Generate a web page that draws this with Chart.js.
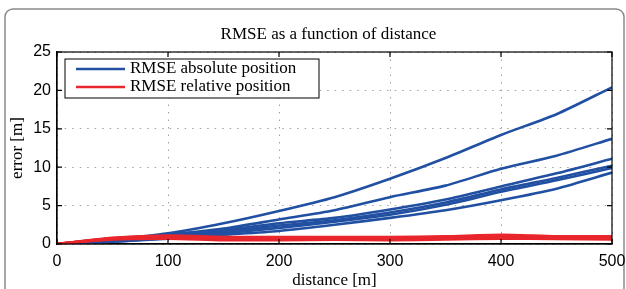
<!DOCTYPE html>
<html>
<head>
<meta charset="utf-8">
<script src="https://cdn.jsdelivr.net/npm/chart.js@4.4.1/dist/chart.umd.min.js"></script>
<style>
  html, body { margin: 0; padding: 0; background: #fff; }
  #caja { width: 626px; height: 289px; }
</style>
</head>
<body>
<div id="caja"><canvas id="grafica" width="626" height="289"></canvas></div>
<script>
// --- Datos ---
const titulo = "RMSE as a function of distance";
const distancias = [0, 50, 100, 150, 200, 250, 300, 350, 400, 450, 500];
const ticksX = [0, 100, 200, 300, 400, 500];
const ticksY = [0, 5, 10, 15, 20, 25];

// RMSE posicion absoluta (azul)
const absoluta1 = [0, 0.6, 1.4, 2.7, 4.3, 6.1, 8.5, 11.2, 14.2, 16.9, 20.4];
const absoluta2 = [0, 0.5, 1.2, 2.0, 3.2, 4.4, 6.1, 7.6, 9.8, 11.5, 13.7];
const absoluta3 = [0, 0.4, 1.0, 1.8, 2.7, 3.4, 4.5, 5.8, 7.5, 9.2, 11.1];
const absoluta4 = [0, 0.4, 0.9, 1.6, 2.4, 3.1, 4.1, 5.4, 7.1, 8.6, 10.2];
const absoluta5 = [0, 0.3, 0.8, 1.4, 2.1, 2.9, 3.8, 5.1, 6.8, 8.3, 9.9];
const absoluta6 = [0, 0.3, 0.7, 1.2, 1.7, 2.5, 3.4, 4.4, 5.7, 7.2, 9.3];

// RMSE posicion relativa (rojo)
const relativa1 = [0, 0.8, 1.1, 0.9, 0.9, 0.9, 0.9, 1.0, 1.2, 1.0, 1.0];
const relativa2 = [0, 0.75, 1.0, 0.8, 0.8, 0.85, 0.8, 0.9, 1.1, 0.95, 0.9];
const relativa3 = [0, 0.7, 0.9, 0.7, 0.7, 0.75, 0.7, 0.8, 0.9, 0.85, 0.8];
const relativa4 = [0, 0.65, 0.8, 0.6, 0.6, 0.65, 0.6, 0.7, 0.8, 0.75, 0.7];
const relativa5 = [0, 0.6, 0.7, 0.5, 0.5, 0.55, 0.5, 0.6, 0.7, 0.65, 0.6];

const etiquetaAbs = "RMSE absolute position";
const etiquetaRel = "RMSE relative position";

const AZUL = "#2150a2";
const ROJO = "#e8262c";

function puntos(valores) {
    return distancias.map((d, i) => ({ x: d, y: valores[i] }));
}

function serie(valores, color, etiqueta) {
    return {
        label: etiqueta,
        data: puntos(valores),
        borderColor: color,
        borderWidth: 2.6,
        pointRadius: 0,
        tension: 0.25,
        fill: false
    };
}

// rojo primero -> se dibuja encima
const series = [
    serie(relativa1, ROJO, etiquetaRel),
    serie(relativa2, ROJO, ""),
    serie(relativa3, ROJO, ""),
    serie(relativa4, ROJO, ""),
    serie(relativa5, ROJO, ""),
    serie(absoluta1, AZUL, etiquetaAbs),
    serie(absoluta2, AZUL, ""),
    serie(absoluta3, AZUL, ""),
    serie(absoluta4, AZUL, ""),
    serie(absoluta5, AZUL, ""),
    serie(absoluta6, AZUL, "")
];

// --- Marco, titulo, caja, ticks internos y leyenda ---
const pluginEstilo = {
    id: "estiloMatlab",
    beforeDraw(chart) {
        const ctx = chart.ctx;
        ctx.save();
        ctx.strokeStyle = "#8a8a8a";
        ctx.lineWidth = 1.5;
        ctx.beginPath();
        ctx.roundRect(5, 9, 619, 300, 8);
        ctx.stroke();
        ctx.restore();
    },
    afterDraw(chart) {
        const ctx = chart.ctx;
        const a = chart.chartArea;
        const sx = chart.scales.x, sy = chart.scales.y;
        ctx.save();

        // titulo
        ctx.fillStyle = "#000";
        ctx.font = "17px 'Liberation Serif', serif";
        ctx.textAlign = "center";
        ctx.textBaseline = "middle";
        ctx.fillText(titulo, (a.left + a.right) / 2 - 6, 35);

        // caja de ejes
        ctx.strokeStyle = "#000";
        ctx.lineWidth = 1.2;
        ctx.strokeRect(a.left, a.top, a.right - a.left, a.bottom - a.top);

        // ticks hacia dentro
        ctx.beginPath();
        ticksX.forEach(v => {
            const px = sx.getPixelForValue(v);
            ctx.moveTo(px, a.bottom); ctx.lineTo(px, a.bottom - 5);
            ctx.moveTo(px, a.top); ctx.lineTo(px, a.top + 5);
        });
        ticksY.forEach(v => {
            const py = sy.getPixelForValue(v);
            ctx.moveTo(a.left, py); ctx.lineTo(a.left + 5, py);
            ctx.moveTo(a.right, py); ctx.lineTo(a.right - 5, py);
        });
        ctx.stroke();

        // leyenda
        const lx = 65, ly = 59, lw = 254, lh = 39;
        ctx.fillStyle = "#fff";
        ctx.fillRect(lx, ly, lw, lh);
        ctx.strokeStyle = "#000";
        ctx.lineWidth = 1;
        ctx.strokeRect(lx, ly, lw, lh);
        const entradas = [[etiquetaAbs, AZUL, 69], [etiquetaRel, ROJO, 87]];
        ctx.font = "17px 'Liberation Serif', serif";
        ctx.textAlign = "left";
        ctx.textBaseline = "middle";
        entradas.forEach(([txt, col, y]) => {
            ctx.strokeStyle = col;
            ctx.lineWidth = 2.6;
            ctx.beginPath();
            ctx.moveTo(76, y); ctx.lineTo(125, y);
            ctx.stroke();
            ctx.fillStyle = "#000";
            ctx.fillText(txt, 130, y);
        });
        ctx.restore();
    }
};

const ctxG = document.getElementById("grafica").getContext("2d");
new Chart(ctxG, {
    type: "line",
    data: { datasets: series },
    plugins: [pluginEstilo],
    options: {
        responsive: false,
        animation: false,
        events: [],
        layout: { padding: { top: 52, right: 14, left: 0, bottom: 0 }, autoPadding: false },
        plugins: {
            legend: { display: false },
            title: { display: false },
            tooltip: { enabled: false }
        },
        scales: {
            x: {
                type: "linear",
                min: 0, max: 500,
                afterFit: s => { s.height = 45; s.paddingLeft = 0; s.paddingRight = 0; },
                afterBuildTicks: s => { s.ticks = ticksX.map(v => ({ value: v })); },
                grid: { color: "#a0a0a0", lineWidth: 1, drawTicks: false },
                border: { display: true, color: "#000", width: 1.2, dash: [1.5, 6] },
                ticks: {
                    color: "#000",
                    padding: 8,
                    maxRotation: 0,
                    font: { family: "'Liberation Sans', sans-serif", size: 16 }
                },
                title: {
                    display: true,
                    text: "distance [m]",
                    color: "#000",
                    padding: { top: 0, bottom: 0 },
                    font: { family: "'Liberation Serif', serif", size: 17, lineHeight: 1 }
                }
            },
            y: {
                min: 0, max: 25,
                afterFit: s => { s.width = 57; s.paddingTop = 0; s.paddingBottom = 0; },
                afterBuildTicks: s => { s.ticks = ticksY.map(v => ({ value: v })); },
                grid: { color: "#a0a0a0", lineWidth: 1, drawTicks: false },
                border: { display: true, color: "#000", width: 1.2, dash: [1.5, 6] },
                ticks: {
                    color: "#000",
                    padding: 6,
                    font: { family: "'Liberation Sans', sans-serif", size: 16 }
                },
                title: {
                    display: true,
                    text: "error [m]",
                    color: "#000",
                    padding: { top: 7, bottom: 0 },
                    font: { family: "'Liberation Serif', serif", size: 17 }
                }
            }
        }
    }
});
</script>
</body>
</html>
